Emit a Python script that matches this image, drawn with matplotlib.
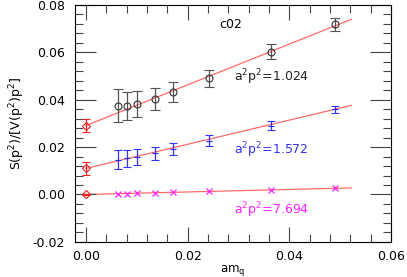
import numpy as np
import matplotlib
matplotlib.use("Agg")
import matplotlib.pyplot as plt
from matplotlib.ticker import MultipleLocator

plt.rcParams['mathtext.default'] = 'regular'
plt.rcParams['font.size'] = 9

# quark masses
am_q = [0.0062, 0.0081, 0.0101, 0.0135, 0.0171, 0.0242, 0.0364, 0.0489]

# a^2 p^2 = 1.024
y1 = [0.0375, 0.0375, 0.0382, 0.0403, 0.0431, 0.0491, 0.0603, 0.0719]
e1 = [0.0069, 0.0059, 0.0053, 0.0048, 0.0042, 0.0036, 0.0032, 0.0028]
# a^2 p^2 = 1.572
y2 = [0.0147, 0.0152, 0.0159, 0.0173, 0.0192, 0.0226, 0.0291, 0.0359]
e2 = [0.0041, 0.0037, 0.0033, 0.0029, 0.0025, 0.0023, 0.0018, 0.0016]
# a^2 p^2 = 7.694
y3 = [0.0003, 0.0004, 0.0005, 0.0007, 0.0009, 0.0013, 0.0020, 0.0027]

# chiral extrapolations (intercept, error, slope)
icpt = [0.0291, 0.0110, 0.0000]
icpt_err = [0.0029, 0.0026, 0.0003]
slope = [0.86, 0.51, 0.053]
x_end = 0.0522

fig, ax = plt.subplots(figsize=(4.07, 2.77), dpi=100)
fig.subplots_adjust(left=0.184, right=0.961, top=0.982, bottom=0.127)

xf = np.array([0.0, x_end])
for b, s in zip(icpt, slope):
    ax.plot(xf, b + s * xf, color='#ff6a6a', lw=0.9, zorder=1)

ax.errorbar(am_q, y1, yerr=e1, fmt='o', mfc='none', mec='#333333', ms=5,
            mew=0.8, ecolor='#555555', elinewidth=0.9, capsize=3.5, zorder=3)
ax.errorbar(am_q, y2, yerr=e2, fmt='_', color='#2222ee', ms=4, mew=0.8,
            ecolor='#3333ee', elinewidth=0.9, capsize=3, zorder=3)
ax.plot(am_q, y3, 'x', color='#ff22ff', ms=4, mew=0.9, zorder=3)
ax.errorbar([0, 0, 0], icpt, yerr=icpt_err, fmt='D', mfc='none',
            mec='#ee2222', ms=4, mew=0.8, ecolor='#ee2222', elinewidth=0.9,
            capsize=3, zorder=3)

ax.text(0.0284, 0.0716, 'c02', ha='center', va='center', fontsize=9)
ax.text(0.0290, 0.0494, 'a$^2$p$^2$=1.024', color='#222222', va='center', fontsize=9)
ax.text(0.0291, 0.0185, 'a$^2$p$^2$=1.572', color='#3333ee', va='center', fontsize=9)
ax.text(0.0291, -0.0067, 'a$^2$p$^2$=7.694', color='#ff22ff', va='center', fontsize=9)

ax.set_xlim(-0.0022, 0.06)
ax.set_ylim(-0.02, 0.08)
ax.xaxis.set_major_locator(MultipleLocator(0.02))
ax.xaxis.set_minor_locator(MultipleLocator(0.004))
ax.yaxis.set_major_locator(MultipleLocator(0.02))
ax.yaxis.set_minor_locator(MultipleLocator(0.004))
ax.xaxis.set_major_formatter(plt.FormatStrFormatter('%.2f'))
ax.yaxis.set_major_formatter(plt.FormatStrFormatter('%.2f'))
ax.tick_params(which='both', direction='in', top=True, right=True,
               color='#444444', width=0.8)
ax.tick_params(axis='y', which='major', length=15, pad=7)
ax.tick_params(axis='x', which='major', length=11, pad=6)
ax.tick_params(which='minor', length=6)
for sp in ax.spines.values():
    sp.set_linewidth(0.8)

ax.set_xlabel('am$_q$', fontsize=8.5, labelpad=0)
ax.set_ylabel('S(p$^2$)/[V(p$^2$)p$^2$]', fontsize=9, labelpad=4)

fig.savefig('out.png', dpi=100)
